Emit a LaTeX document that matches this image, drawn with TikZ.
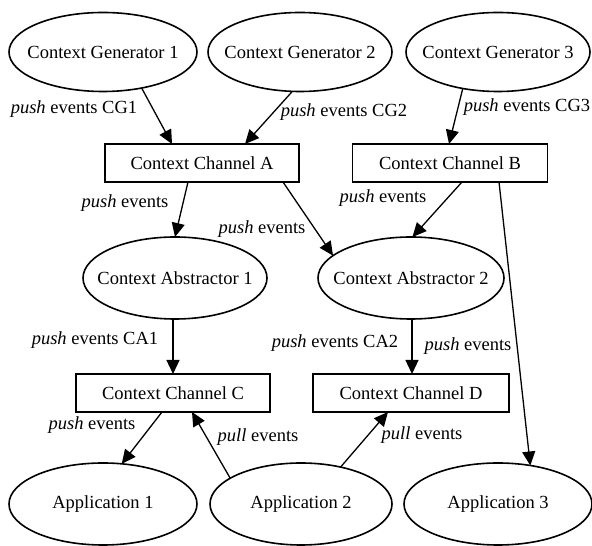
\documentclass[tikz,border=0pt]{standalone}
\usepackage{fontspec}
\setmainfont{Liberation Serif}
\usetikzlibrary{shapes.geometric,arrows.meta}
\begin{document}
\begin{tikzpicture}[x=1pt,y=1pt,
  every node/.style={font=\fontsize{18.5}{22}\selectfont, inner sep=0pt, outer sep=0pt},
  gen/.style={ellipse, draw, line width=1.6pt, inner xsep=-14pt, minimum width=188pt, minimum height=79pt},
  chan/.style={rectangle, draw, line width=1.3pt, minimum width=194pt, minimum height=38pt},
  lbl/.style={},
  conn/.style={line width=1.3pt, -{Triangle[length=14pt,width=13pt]}}]
\useasboundingbox (0,0) rectangle (592,546);
% nodes
\node[gen] (cg1) at (103,494) {Context Generator 1};
\node[gen, minimum width=184pt] (cg2) at (300,494) {Context Generator 2};
\node[gen, minimum width=184pt] (cg3) at (498,494) {Context Generator 3};
\node[chan] (cha) at (202,383) {Context Channel A};
\node[chan, minimum width=195pt] (chb) at (450,383) {Context Channel B};
\node[gen, minimum width=184pt, minimum height=82pt] (ca1) at (175,268) {Context Abstractor 1};
\node[gen, minimum width=186pt, minimum height=82pt] (ca2) at (411,268) {Context Abstractor 2};
\node[chan] (chc) at (173,153) {Context Channel C};
\node[chan, minimum width=196pt] (chd) at (411,153) {Context Channel D};
\node[gen, minimum height=82pt] (app1) at (103,42) {Application 1};
\node[gen, minimum width=182pt, minimum height=82pt] (app2) at (301,42) {Application 2};
\node[gen, minimum height=82pt] (app3) at (498,42) {Application 3};
% connectors
\draw[conn] (cg1.-43) -- ([xshift=-30pt]cha.north);
\draw[conn] (cg2.-101) -- ([xshift=43pt]cha.north);
\draw[conn] (cg3.-134) -- ([xshift=-1pt]chb.north);
\draw[conn] ([xshift=-14pt]cha.south) -- (ca1.north);
\draw[conn] ([xshift=81pt]cha.south) -- (ca2.164);
\draw[conn] ([xshift=12pt]chb.south) -- (ca2.88);
\draw[conn] ([xshift=49pt]chb.south) -- (app3.50);
\draw[conn] ([xshift=-2pt]ca1.south) -- ([xshift=0pt]chc.north);
\draw[conn] ([xshift=1pt]ca2.south) -- ([xshift=1pt]chd.north);
\draw[conn] ([xshift=-11pt]chc.south) -- (app1.65);
\draw[conn] (app2.160) -- ([xshift=19pt]chc.south);
\draw[conn] (app2.43) -- ([xshift=-23pt]chd.south);
% labels
\node[lbl] (l1) at (74,437) {\textit{push} events CG1};
\node[lbl] (l2) at (344,434) {\textit{push} events CG2};
\node[lbl] (l3) at (527,439) {\textit{push} events CG3};
\node[lbl] (l4) at (125,343) {\textit{push} events};
\node[lbl] (l5) at (262,317) {\textit{push} events};
\node[lbl] (l6) at (383,348) {\textit{push} events};
\node[lbl] (l7) at (95,206) {\textit{push} events CA1};
\node[lbl] (l8) at (335,203) {\textit{push} events CA2};
\node[lbl] (l9) at (468,200) {\textit{push} events};
\node[lbl] (l10) at (92,121) {\textit{push} events};
\node[lbl] (l11) at (258,109) {\textit{pull} events};
\node[lbl] (l12) at (422,111) {\textit{pull} events};
\end{tikzpicture}
\end{document}
